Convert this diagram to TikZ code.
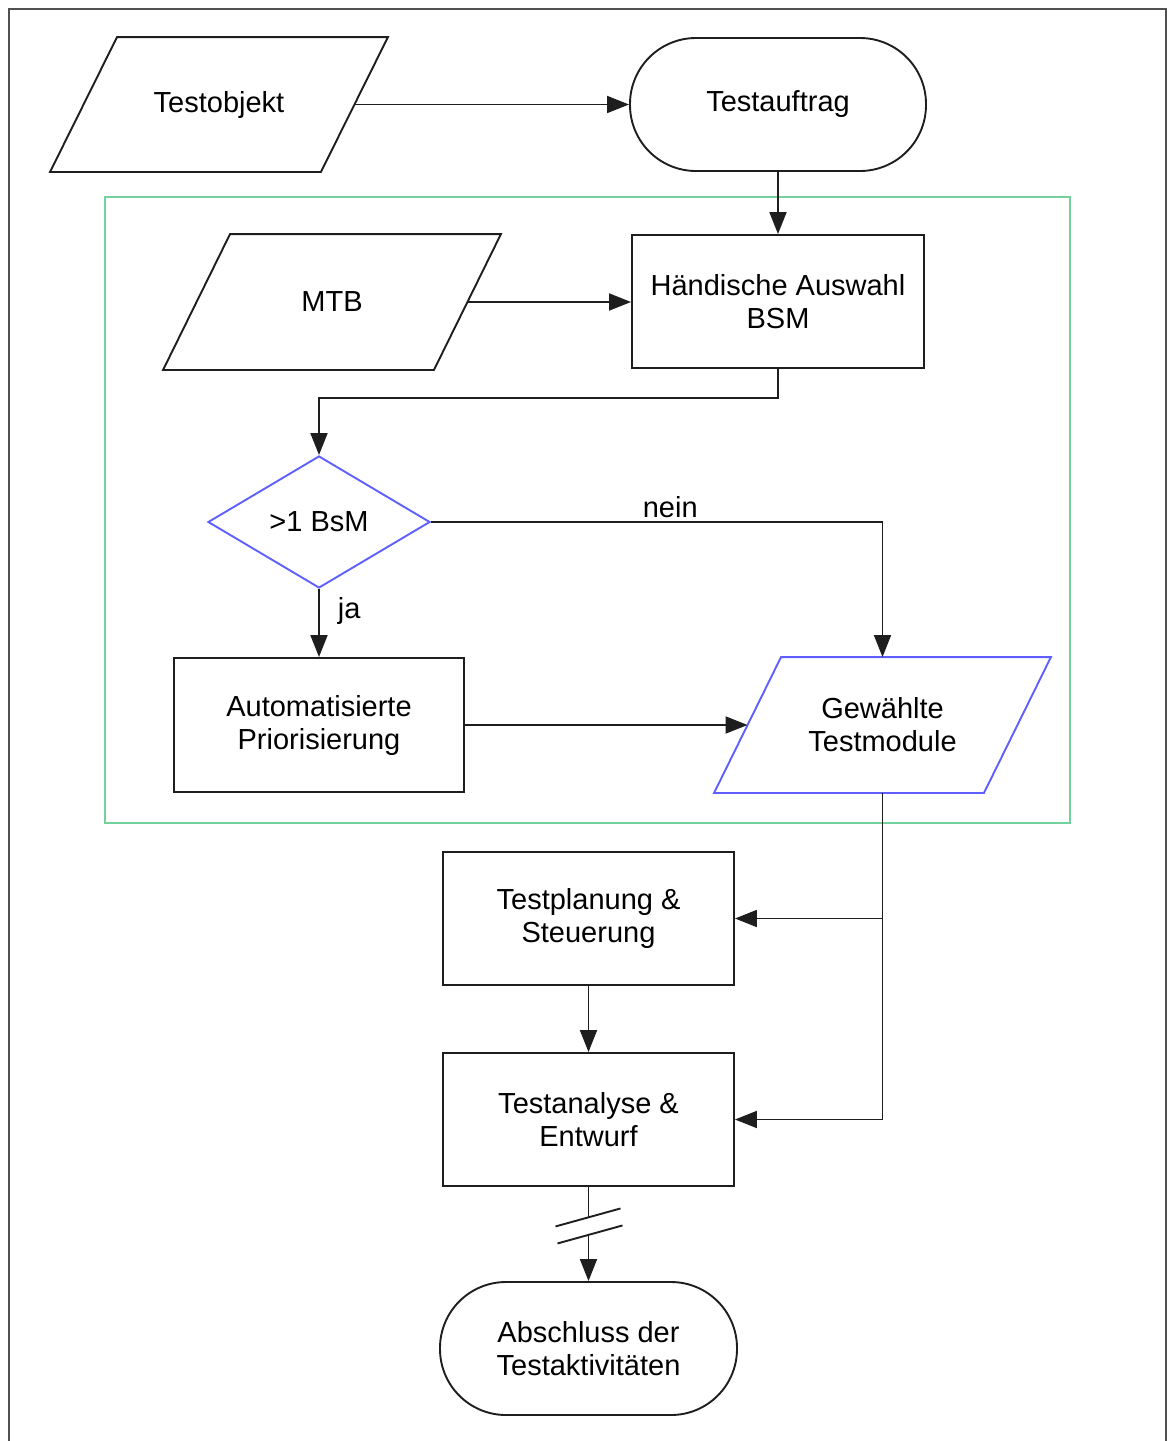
\documentclass[tikz,border=0pt]{standalone}
\usepackage{fontspec}
\setmainfont{Liberation Sans}
\usetikzlibrary{arrows.meta,shapes.geometric,calc}

\definecolor{linec}{RGB}{30,30,30}
\definecolor{framec}{RGB}{80,80,80}
\definecolor{greenc}{RGB}{115,210,155}
\definecolor{bluec}{RGB}{95,95,255}

\tikzset{
  base/.style={draw=linec, line width=1.9pt, align=center, inner sep=2pt,
    font=\fontsize{29}{33}\selectfont},
  procbox/.style={base, rectangle, minimum width=291pt, minimum height=133pt},
  termbox/.style={base, rectangle, rounded corners=66pt, minimum width=296pt, minimum height=133pt},
  % data node: text box whose east/west anchors sit on the slanted sides
  databox/.style={base, draw=none, rectangle, minimum width=269pt, minimum height=133pt},
  decbox/.style={base, diamond, minimum width=222pt, minimum height=132pt, inner sep=0pt},
  conn/.style={draw=linec, line width=1.9pt},
  arr/.style={conn, -{Triangle[length=22pt,width=17pt]}},
  lbl/.style={font=\fontsize{29}{33}\selectfont, inner sep=0pt}
}

% parallelogram outline around a data node: #1 node name, #2 colour
\newcommand{\dataoutline}[2]{%
  \draw[draw=#2, line width=1.9pt, line join=miter]
    ($(#1.north west)+(33.5,0)$) -- ($(#1.north east)+(33.5,0)$) --
    ($(#1.south east)+(-33.5,0)$) -- ($(#1.south west)+(-33.5,0)$) -- cycle;}

\begin{document}
\begin{tikzpicture}[x=1pt,y=-1pt]
\useasboundingbox (0,0) rectangle (1168,1441);

% outer frame (open at the bottom)
\draw[framec, line width=2.2pt] (9,1460) -- (9,9) -- (1166,9) -- (1166,1460);

% group frame
\draw[greenc, line width=2pt] (105,197) rectangle (1070,823);

% nodes
\node[databox] (obj) at (219,104.5) {Testobjekt};
\dataoutline{obj}{linec}
\node[termbox] (auf) at (778,104.5) {Testauftrag};
\node[procbox, minimum width=292pt] (hand) at (778,301.5) {Händische Auswahl\\BSM};
\node[databox, minimum height=134pt] (mtb) at (332,302) {MTB};
\dataoutline{mtb}{linec}
\node[decbox, draw=bluec] (dia) at (319,522) {>1 BsM};
\node[procbox, minimum width=290pt, minimum height=134pt] (auto) at (319,725) {Automatisierte\\Priorisierung};
\node[databox, minimum width=268pt, minimum height=134pt] (gew) at (882.5,725) {Gewählte\\Testmodule};
\dataoutline{gew}{bluec}
\node[procbox] (plan) at (588.5,918.5) {Testplanung \&\\Steuerung};
\node[procbox] (ana) at (588.5,1119.5) {Testanalyse \&\\Entwurf};
\node[termbox, minimum width=297pt] (fin) at (588.5,1348.5) {Abschluss der\\Testaktivitäten};

% connectors
\draw[arr] (obj) -- (auf);
\draw[arr] (auf) -- (hand);
\draw[arr] (mtb) -- (mtb -| hand.west);
\draw[arr] (hand.south) -- ++(0,29) -| (dia.north);
\draw[arr] (dia.south) -- node[lbl, right, xshift=18pt, pos=0.33] {ja} (auto.north);
\draw[arr] (dia.east) -| node[lbl, pos=0.265, yshift=15pt] {nein} (gew.north);
\draw[arr] (auto) -- (gew);
\draw[arr] (gew.south) |- (plan.east);
\draw[arr] (gew.south) |- (ana.east);
\draw[arr] (plan) -- (ana);

% interrupted flow to the end node
\coordinate (b1) at ($(ana.south)+(0,30.5)$);
\coordinate (b2) at ($(ana.south)+(0,47.5)$);
\draw[conn] (ana.south) -- (b1);
\draw[conn] ($(b1)+(-33,9)$) -- ($(b1)+(32,-9)$);
\draw[conn] ($(b2)+(-31,9)$) -- ($(b2)+(34,-9)$);
\draw[arr] (b2) -- (fin.north);
\end{tikzpicture}
\end{document}
